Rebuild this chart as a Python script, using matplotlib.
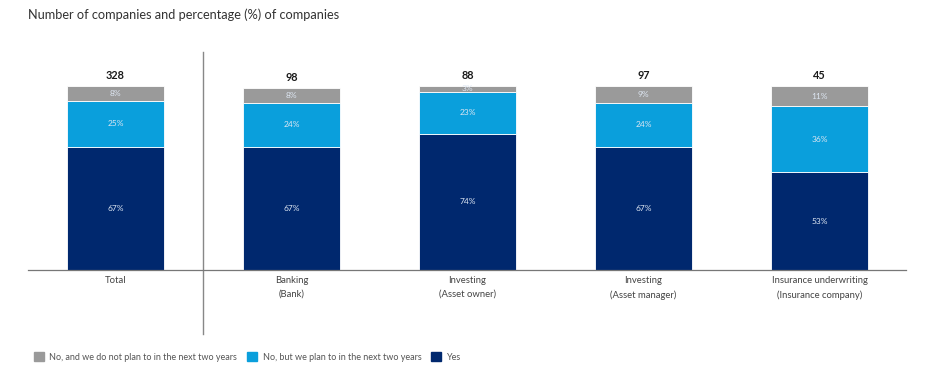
import matplotlib.pyplot as plt
from matplotlib.patches import Patch

plt.rcParams['font.family'] = ['Lato', 'DejaVu Sans']

categories = ["Total", "Banking\n(Bank)", "Investing\n(Asset owner)",
              "Investing\n(Asset manager)", "Insurance underwriting\n(Insurance company)"]
totals = [328, 98, 88, 97, 45]
yes = [67, 67, 74, 67, 53]
plan = [25, 24, 23, 24, 36]
no_plan = [8, 8, 3, 9, 11]

series_names = ["No, and we do not plan to in the next two years",
                "No, but we plan to in the next two years", "Yes"]
c_gray = "#9a9a9a"
c_light = "#0a9fdc"
c_dark = "#00286e"

W, H = 925, 370
fig = plt.figure(figsize=(W / 100, H / 100), dpi=100)
ax = fig.add_axes([28 / W, 1 - 270 / H, (906 - 28) / W, (270 - 52) / H])

x = list(range(len(categories)))
bw = 0.551
b1 = ax.bar(x, yes, bw, color=c_dark, edgecolor="white", linewidth=0.6)
b2 = ax.bar(x, plan, bw, bottom=yes, color=c_light, edgecolor="white", linewidth=0.6)
bottom3 = [a + b for a, b in zip(yes, plan)]
b3 = ax.bar(x, no_plan, bw, bottom=bottom3, color=c_gray, edgecolor="white", linewidth=0.6)

for bars, vals, bots in ((b1, yes, [0] * 5), (b2, plan, yes), (b3, no_plan, bottom3)):
    for xi, v, b in zip(x, vals, bots):
        ax.text(xi, b + v / 2, f"{v}%", ha="center", va="center",
                color="#dde6f2", fontsize=6)

for xi, t, y, n in zip(x, totals, bottom3, no_plan):
    ax.text(xi, y + n + 2.5, str(t), ha="center", va="bottom",
            fontsize=7.8, fontweight="bold", color="#1a1a1a")

ax.set_xlim(-0.497, 4.491)
ax.set_ylim(0, 118.5)
ax.set_xticks(x)
ax.set_xticklabels(categories, fontsize=6.8, color="#444444", linespacing=1.75)
ax.tick_params(axis="x", length=0, pad=4)
ax.set_yticks([])
for s in ("top", "right", "left"):
    ax.spines[s].set_visible(False)
ax.spines["bottom"].set_color("#777777")
ax.spines["bottom"].set_linewidth(0.9)

ax.axvline(0.5, ymin=-0.294, ymax=1, color="#888888", linewidth=1.0, clip_on=False)

fig.text(28 / W, 1 - 15 / H, "Number of companies and percentage (%) of companies",
         fontsize=9.2, color="#333333", va="center", ha="left")

handles = [Patch(color=c_gray), Patch(color=c_light), Patch(color=c_dark)]
fig.legend(handles, series_names, loc="center left", bbox_to_anchor=(26 / W, 1 - 357 / H),
           ncol=3, frameon=False, fontsize=6.5, handlelength=1.1, handleheight=1.1,
           handletextpad=0.6, columnspacing=1.1, labelcolor="#555555")

fig.savefig("out.png", dpi=100, facecolor="white")
